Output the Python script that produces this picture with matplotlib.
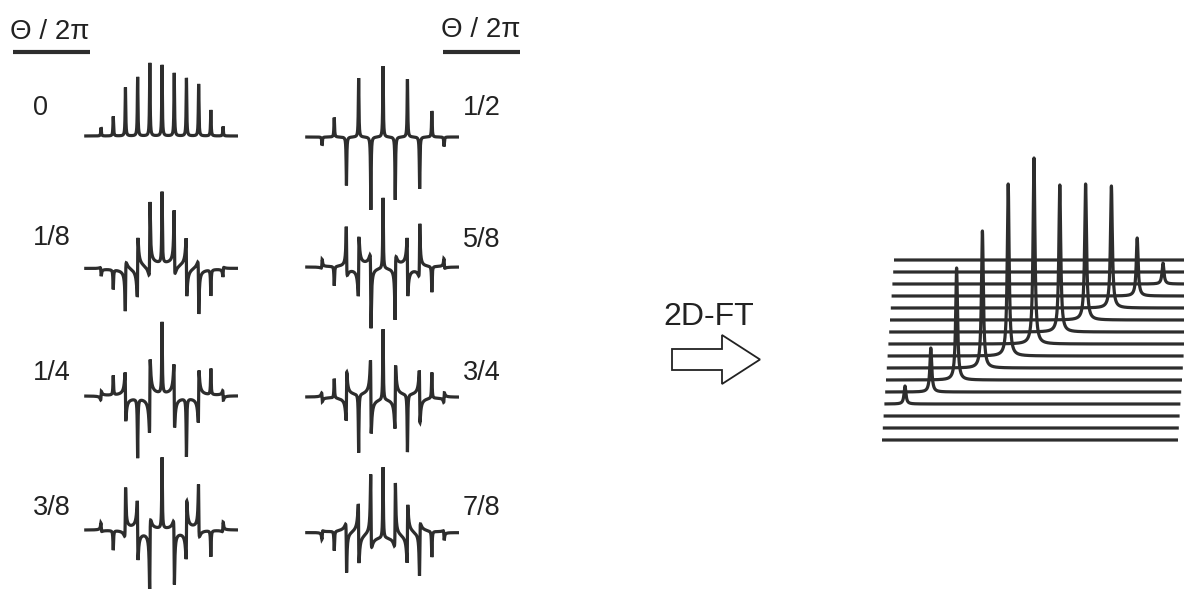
"""Multiple-quantum phase-cycling spectra for eight phase increments and the
stacked 2D-FT result (one peak per coherence order on the diagonal)."""

import numpy as np
import matplotlib
matplotlib.use("Agg")
import matplotlib.pyplot as plt
from matplotlib.patches import FancyArrow

plt.rcParams['font.family'] = ['Liberation Sans', 'DejaVu Sans']

# %% Data
peak_pos = [0, 1, 2, 3, 4, 5, 6, 7, 8, 9, 10]          # line positions (spacing units)
orders = [5, 4, 3, 2, 1, 0, -1, -2, -3, -4, -5]        # coherence order of each line
amps_1d = [8.5, 19.5, 48.5, 59, 73, 71, 63, 58, 52, 26, 9.5]   # heights at Theta = 0

thetas_left = [0, 1 / 8, 1 / 4, 3 / 8]
labels_left = ["0", "1/8", "1/4", "3/8"]
thetas_right = [1 / 2, 5 / 8, 3 / 4, 7 / 8]
labels_right = ["1/2", "5/8", "3/4", "7/8"]

amps_2d = [18, 44, 112, 137, 172, 186, 147, 136, 122, 58, 21]  # stacked plot peaks
n_traces = 16
diag_rows = [3, 4, 5, 6, 7, 8, 9, 10, 11, 12, 13]      # trace holding each peak

header = "\u0398 / 2\u03c0"
ft_label = "2D-FT"

# %% Layout / style
W, H = 1184, 589
INK = "#2d2d2d"
LW = 2.3
GAMMA_1D = 0.03
GAMMA_2D = 0.045
SP_1D = 12.2                 # px per spacing unit in the 1D panels
X1D = (-1.38, 11.25)
LEFT_COL, RIGHT_COL = 84.2, 305.2
BASE_LEFT = [136, 268, 396, 530]
BASE_RIGHT = [137, 267, 397, 533]

fig = plt.figure(figsize=(W / 100, H / 100), dpi=100)


def px_axes(left, top, width, height):
    ax = fig.add_axes([left / W, 1 - (top + height) / H, width / W, height / H])
    ax.set_axis_off()
    ax.patch.set_alpha(0)
    return ax


def spectrum(u, pos, amp, phase, gamma):
    d = u[:, None] - np.asarray(pos, float)[None, :]
    z = gamma / (gamma + 1j * d)
    c = np.asarray(amp, float) * np.exp(1j * np.asarray(phase, float))
    return (c[None, :] * z).real.sum(axis=1)


u1 = np.union1d(np.linspace(X1D[0], X1D[1], 9001), peak_pos)

# %% Overlay for text, underlines and arrow (pixel coords)
bg = fig.add_axes([0, 0, 1, 1])
bg.set_xlim(0, W)
bg.set_ylim(H, 0)
bg.set_axis_off()

bg.text(10, 39, header, fontsize=20, color="#222", ha="left", va="baseline")
bg.text(441, 37, header, fontsize=20, color="#222", ha="left", va="baseline")
bg.plot([13, 90], [52, 52], color=INK, lw=3, solid_capstyle="butt")
bg.plot([443, 520], [52, 52], color=INK, lw=3, solid_capstyle="butt")

for lab, y in zip(labels_left, [115, 245, 380, 515]):
    bg.text(33, y, lab, fontsize=19.5, color="#222", ha="left", va="baseline")
for lab, y in zip(labels_right, [115, 247, 380, 515]):
    bg.text(463, y, lab, fontsize=19.5, color="#222", ha="left", va="baseline")

bg.text(709, 325, ft_label, fontsize=23, color="#222", ha="center", va="baseline")
bg.add_patch(FancyArrow(672, 359.5, 88, 0, width=21, head_width=49, head_length=38,
                        length_includes_head=True, fc="white", ec="#222", lw=1.3))

# %% 1D spectra
width_px = (X1D[1] - X1D[0]) * SP_1D
for col_left, thetas, bases in [(LEFT_COL, thetas_left, BASE_LEFT),
                                (RIGHT_COL, thetas_right, BASE_RIGHT)]:
    for th, base in zip(thetas, bases):
        ax = px_axes(col_left, base - 100, width_px, 200)
        phase = 2 * np.pi * th * np.asarray(orders)
        y = spectrum(u1, peak_pos, amps_1d, phase, GAMMA_1D)
        ax.plot(u1, y, color=INK, lw=LW, solid_joinstyle="miter",
                solid_capstyle="butt")
        ax.set_xlim(*X1D)
        ax.set_ylim(-100, 100)

# %% Stacked 2D-FT plot
SP_2D = 25.0                 # px per spacing unit
ROW_PX = 12.0
SKEW = 0.8 / SP_2D           # units shift per trace
x0_px = 902.6                # pixel position of unit 0 on the bottom trace
ax2 = px_axes(870, 140, W - 870, 320)
ax2.set_xlim((870 - x0_px) / SP_2D, (W - x0_px) / SP_2D)
ax2.set_ylim(-20, 300)
span = (-0.824, 11.016)
u2 = np.union1d(np.linspace(span[0], span[1], 9001), peak_pos)
for j in range(n_traces):
    y = np.zeros_like(u2)
    if j in diag_rows:
        k = diag_rows.index(j)
        y = spectrum(u2, [peak_pos[k]], [amps_2d[k]], [0.0], GAMMA_2D)
    ax2.plot(u2 + SKEW * j, y + ROW_PX * j, color=INK, lw=LW,
             solid_capstyle="butt")

fig.savefig("out.png", dpi=100)
